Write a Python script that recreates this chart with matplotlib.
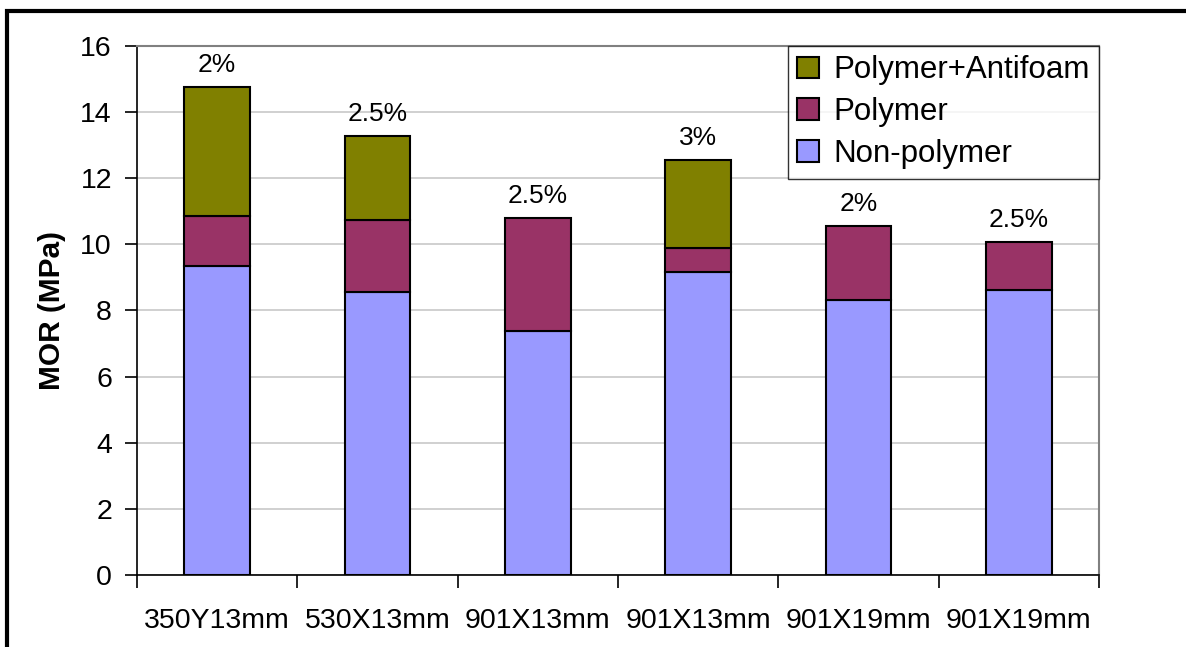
import matplotlib.pyplot as plt
import numpy as np
from matplotlib.patches import Rectangle

plt.rcParams['font.family'] = ['Liberation Sans', 'DejaVu Sans']

# Data
categories = ['350Y13mm', '530X13mm', '901X13mm', '901X13mm', '901X19mm', '901X19mm']
non_polymer = [9.35, 8.56, 7.38, 9.17, 8.32, 8.62]
polymer = [1.51, 2.18, 3.42, 0.72, 2.24, 1.45]
antifoam = [3.89, 2.54, 0.0, 2.66, 0.0, 0.0]
pct_labels = ['2%', '2.5%', '2.5%', '3%', '2%', '2.5%']

fig = plt.figure(figsize=(11.86, 6.47), dpi=100)
ax = fig.add_axes([0.1155, 0.1113, 0.811, 0.8176])

x = np.arange(len(categories))
w = 0.41
c_non, c_pol, c_af = '#9999FF', '#993366', '#808000'

b1 = ax.bar(x, non_polymer, w, color=c_non, edgecolor='black', linewidth=1.5,
            label='Non-polymer', zorder=3)
bottom2 = np.array(non_polymer)
b2 = ax.bar(x, polymer, w, bottom=bottom2, color=c_pol, edgecolor='black',
            linewidth=1.5, label='Polymer', zorder=3)
bottom3 = bottom2 + np.array(polymer)
af = np.array(antifoam)
mask = af > 0
b3 = ax.bar(x[mask], af[mask], w, bottom=bottom3[mask], color=c_af,
            edgecolor='black', linewidth=1.5, label='Polymer+Antifoam', zorder=3)

tops = bottom3 + af
for xi, t, lab in zip(x, tops, pct_labels):
    ax.text(xi, t + 0.3, lab, ha='center', va='bottom', fontsize=19)

ax.set_xlim(-0.5, len(categories) - 0.5)
ax.set_ylim(0, 16)
ax.set_yticks(range(0, 17, 2))
ax.set_xticks(x)
ax.set_xticklabels(categories, fontsize=20.5)
ax.set_xticks(np.arange(-0.5, len(categories)), minor=True)
ax.tick_params(axis='x', which='major', length=0, pad=24)
ax.tick_params(axis='x', which='minor', length=9, width=1.2, direction='out')
ax.tick_params(axis='y', labelsize=20.5, length=9, width=1.2, direction='out', pad=9)
ax.set_ylabel('MOR (MPa)', fontsize=21.5, fontweight='bold', labelpad=10)

ax.yaxis.grid(True, color='#c8c8c8', linewidth=1.2, zorder=0)
ax.set_axisbelow(True)
for s in ['left', 'bottom']:
    ax.spines[s].set_color('black')
    ax.spines[s].set_linewidth(1.2)
for s in ['top', 'right']:
    ax.spines[s].set_color('#808080')
    ax.spines[s].set_linewidth(1.5)

leg = ax.legend(handles=[b3, b2, b1], loc='upper right', fontsize=22.5,
                frameon=True, fancybox=False, edgecolor='black',
                borderaxespad=0, handlelength=0.7, handleheight=0.7,
                handletextpad=0.45, labelspacing=0.38, borderpad=0.3)
leg.get_frame().set_linewidth(1.0)

# outer frame, cut off at right and bottom
fig.patches.append(Rectangle((7 / 1186, -0.2), 1.2, 0.2 + (647 - 11) / 647,
                             transform=fig.transFigure, fill=False,
                             edgecolor='black', linewidth=3))

fig.savefig('out.png', dpi=100)
